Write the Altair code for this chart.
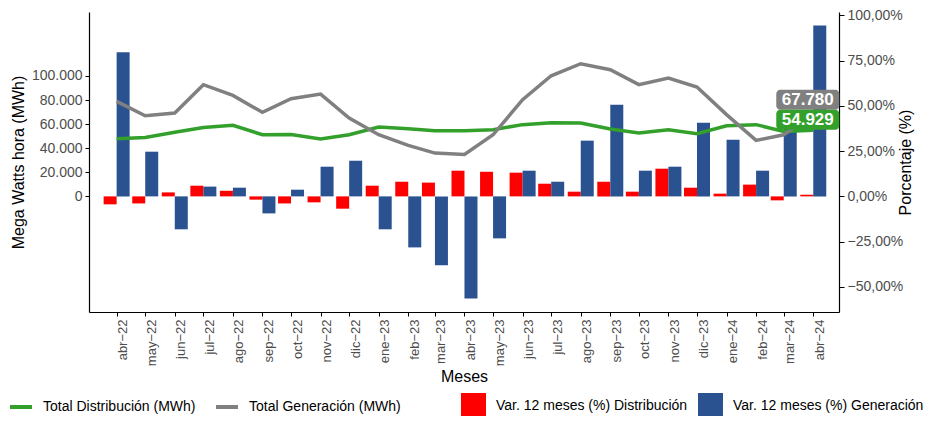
import json
import altair as alt
import pandas as pd

FONT = "Liberation Sans"

fechas = ["2022-04-01", "2022-05-01", "2022-06-01", "2022-07-01", "2022-08-01", "2022-09-01",
          "2022-10-01", "2022-11-01", "2022-12-01", "2023-01-01", "2023-02-01", "2023-03-01",
          "2023-04-01", "2023-05-01", "2023-06-01", "2023-07-01", "2023-08-01", "2023-09-01",
          "2023-10-01", "2023-11-01", "2023-12-01", "2024-01-01", "2024-02-01", "2024-03-01",
          "2024-04-01"]
meses = ["abr−22", "may−22", "jun−22", "jul−22", "ago−22", "sep−22", "oct−22", "nov−22",
         "dic−22", "ene−23", "feb−23", "mar−23", "abr−23", "may−23", "jun−23", "jul−23",
         "ago−23", "sep−23", "oct−23", "nov−23", "dic−23", "ene−24", "feb−24", "mar−24",
         "abr−24"]
generacion = [78900, 67000, 69300, 92800, 83900, 69800, 81100, 85000, 65100, 51200, 42400,
              36000, 34900, 51200, 80300, 100200, 110200, 105200, 92800, 98300, 90900, 67900,
              46500, 51200, 67780]
distribucion = [47900, 49000, 53200, 57300, 59000, 51200, 51500, 47700, 51200, 57600, 56200,
                54600, 54600, 55400, 59600, 61200, 61000, 56000, 52700, 55400, 52100, 58700,
                59600, 54000, 54929]
var_dist = [-0.044, -0.039, 0.022, 0.059, 0.031, -0.018, -0.039, -0.033, -0.068, 0.059, 0.081,
            0.076, 0.142, 0.136, 0.131, 0.070, 0.026, 0.081, 0.026, 0.153, 0.048, 0.015, 0.065,
            -0.022, 0.009]
var_gen = [0.796, 0.247, -0.182, 0.054, 0.048, -0.094, 0.037, 0.164, 0.197, -0.182, -0.282,
           -0.381, -0.564, -0.232, 0.142, 0.081, 0.308, 0.507, 0.142, 0.164, 0.407, 0.313,
           0.142, 0.40, 0.945]

ult_valores = [67780, 54929]
ult_textos = ["67.780", "54.929"]

series_lineas = ["Total Distribución (MWh)", "Total Generación (MWh)"]
series_barras = ["Var. 12 meses (%) Distribución", "Var. 12 meses (%) Generación"]

GREEN = "#33a02c"
GRAY = "#808080"
RED = "#ff0000"
BLUE = "#2a5190"

df = pd.DataFrame({"fecha": fechas, "gen": generacion, "dist": distribucion,
                   "vdist": var_dist, "vgen": var_gen,
                   "s_dist": series_lineas[0], "s_gen": series_lineas[1],
                   "b_dist": series_barras[0], "b_gen": series_barras[1]})

label_expr = json.dumps(meses, ensure_ascii=False) + \
    "[(utcyear(datum.value)-2022)*12 + utcmonth(datum.value) - 3]"

xvals = [alt.DateTime(year=int(f[:4]), month=int(f[5:7]), date=1, utc=True) for f in fechas]
xscale = alt.Scale(type="utc", nice=False, padding=0,
                   domain=[alt.DateTime(year=2022, month=3, date=3, utc=True),
                           alt.DateTime(year=2024, month=4, date=28, utc=True)])
xaxis = alt.Axis(title="Meses", values=xvals, labelExpr=label_expr, labelAngle=-90,
                 labelFontSize=13, labelColor="#4d4d4d", labelFont=FONT, labelPadding=3,
                 labelBaseline="top", labelAlign="right",
                 titleFont=FONT, titleFontSize=16, titleFontWeight="normal", titleColor="black",
                 titlePadding=3, domainColor="black", domainWidth=1.2, tickColor="black",
                 tickSize=4, grid=False, labelOverlap=False)
X = alt.X("fecha:T", scale=xscale, axis=xaxis)

yL_scale = alt.Scale(domain=[-96000, 153150], nice=False, zero=False, padding=0)
yR_scale = alt.Scale(domain=[-0.639, 1.019], nice=False, zero=False, padding=0)

axL = alt.Axis(orient="left", title="Mega Watts hora (MWh)", values=[0, 20000, 40000, 60000, 80000, 100000],
               labelExpr="replace(format(datum.value, ','), ',', '.')",
               labelFontSize=14, labelColor="#4d4d4d", labelFont=FONT, labelPadding=3,
               titleFont=FONT, titleFontSize=16, titleFontWeight="normal", titleColor="black",
               titlePadding=5, domainColor="black", domainWidth=1.2, tickColor="black",
               tickSize=4, grid=False)
axR = alt.Axis(orient="right", title="Porcentaje (%)", values=[-0.5, -0.25, 0, 0.25, 0.5, 0.75, 1.0],
               labelExpr="replace(format(datum.value, '.2%'), '.', ',')",
               labelFontSize=14, labelColor="#4d4d4d", labelFont=FONT, labelPadding=3,
               titleFont=FONT, titleFontSize=16, titleFontWeight="normal", titleColor="black",
               titlePadding=11, titleAngle=-90, domainColor="black", domainWidth=1.2,
               tickColor="black", tickSize=5, grid=False)

fill_scale = alt.Scale(domain=series_barras, range=[RED, BLUE])
fill_leg = alt.Legend(orient="none", legendX=372, legendY=381, direction="horizontal", title=None,
                      symbolType="square", symbolSize=625, symbolStrokeWidth=0, labelFont=FONT,
                      labelFontSize=14, labelColor="black", labelOffset=10, columnPadding=10,
                      labelLimit=400, padding=0, symbolOpacity=1)
stroke_scale = alt.Scale(domain=series_lineas, range=[GREEN, GRAY])
stroke_leg = alt.Legend(orient="none", legendX=-81, legendY=382, direction="horizontal", title=None,
                        symbolType="stroke", symbolSize=484, symbolStrokeWidth=4, labelFont=FONT,
                        labelFontSize=14, labelColor="black", labelOffset=9, columnPadding=12,
                        labelLimit=400, padding=0)

red = alt.Chart(df).mark_bar(size=13, xOffset=-6.5).encode(
    x=X, y=alt.Y("vdist:Q", scale=yR_scale, axis=axR),
    fill=alt.Fill("b_dist:N", scale=fill_scale, legend=fill_leg))
blue = alt.Chart(df).mark_bar(size=13, xOffset=6.5).encode(
    x=X, y=alt.Y("vgen:Q", scale=yR_scale, axis=axR),
    fill=alt.Fill("b_gen:N", scale=fill_scale, legend=fill_leg))
bars = alt.layer(red, blue)

green = alt.Chart(df).mark_line(strokeWidth=3.5).encode(
    x=X, y=alt.Y("dist:Q", scale=yL_scale, axis=axL),
    stroke=alt.Stroke("s_dist:N", scale=stroke_scale, legend=stroke_leg))
gray = alt.Chart(df).mark_line(strokeWidth=3.5).encode(
    x=X, y=alt.Y("gen:Q", scale=yL_scale, axis=axL),
    stroke=alt.Stroke("s_gen:N", scale=stroke_scale, legend=stroke_leg))

label_layers = []
offsets = [-15, -10.6]
colors = [GRAY, GREEN]
for val, txt, off, col in zip(ult_valores, ult_textos, offsets, colors):
    ldf = pd.DataFrame({"fecha": [fechas[-1]], "valor": [val], "texto": [txt]})
    box = alt.Chart(ldf).mark_rect(xOffset=-37, x2Offset=26, yOffset=off - 10, y2Offset=off + 10,
                                   cornerRadius=4, color=col).encode(
        x=X, x2="fecha:T", y=alt.Y("valor:Q", scale=yL_scale, axis=axL), y2="valor:Q")
    text = alt.Chart(ldf).mark_text(dx=-5.5, dy=off, fontSize=17, fontWeight="bold", color="white",
                                    font=FONT, align="center", baseline="middle").encode(
        x=X, y=alt.Y("valor:Q", scale=yL_scale, axis=axL), text="texto:N")
    label_layers += [box, text]

lines = alt.layer(green, gray, *label_layers)

chart = alt.layer(bars, lines).resolve_scale(y="independent").properties(
    width=750, height=300,
    padding={"left": 81, "top": 4, "right": 85, "bottom": 104},
    autosize=alt.AutoSizeParams(type="none"),
).configure(font=FONT, view=alt.ViewConfig(stroke=None))

chart.save("out.html", embed_options={"renderer": "svg", "actions": False})
